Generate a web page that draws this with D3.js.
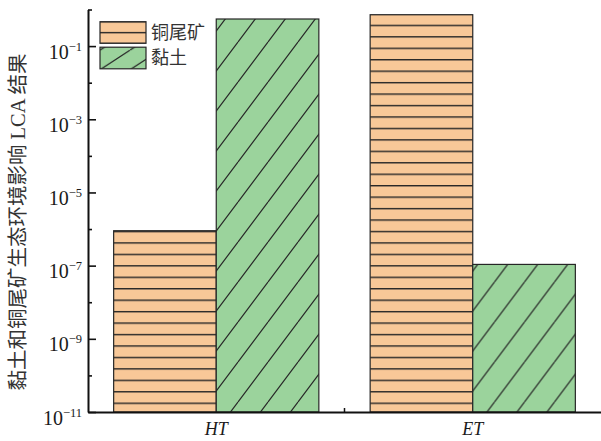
<!DOCTYPE html>
<html>
<head>
<meta charset="utf-8">
<script src="https://cdn.jsdelivr.net/npm/d3@7/dist/d3.min.js"></script>
<style>
  html, body { margin: 0; padding: 0; background: #fff; }
  svg { display: block; }
</style>
</head>
<body>
<svg id="chart" width="601" height="441"></svg>
<script>
// Impact categories on the x axis
const categories = ["HT", "ET"];
// Materials compared in each category
const seriesNames = ["铜尾矿", "黏土"];
// LCA results per material, one value per category
const copperTailings = [9.0e-7, 0.72];
const clay = [0.55, 1.08e-7];
// Log-axis exponents that carry labels, and the in-between minor ticks
const majorExponents = [-1, -3, -5, -7, -9, -11];
const minorExponents = [0, -2, -4, -6, -8, -10];
const yTitle = "黏土和铜尾矿生态环境影响 LCA 结果";

const svg = d3.select("#chart");
const W = 601, H = 441;
const margin = { left: 88, right: 0, top: 9.5, bottom: 29 };
const x0 = margin.left, x1 = W - margin.right;
const yBottom = H - margin.bottom, yTop = margin.top;

const fills = ["#F8C898", "#9BD39C"];
const ink = "#262626";
const serif = "'Liberation Serif', 'Times New Roman', 'Noto Sans CJK SC', serif";
const cjk = "'Liberation Serif', 'Noto Sans CJK SC', serif";

const values = [copperTailings, clay];
const data = categories.map((c, i) => ({
  category: c,
  bars: seriesNames.map((s, j) => ({ series: j, value: values[j][i] }))
}));

const x = d3.scaleBand().domain(categories).range([x0, x1]).paddingInner(0).paddingOuter(0);
const inset = x.bandwidth() * 0.1;
const xs = d3.scaleBand().domain(d3.range(seriesNames.length))
  .range([inset, x.bandwidth() - inset]);
const y = d3.scaleLog().domain([1e-11, 1]).range([yBottom, yTop]);

// Hatch patterns: horizontal rules for tailings, slanted rules for clay
const defs = svg.append("defs");
function hLines(id, period, fill) {
  const p = defs.append("pattern").attr("id", id).attr("patternUnits", "userSpaceOnUse")
    .attr("width", 20).attr("height", period).attr("y", 0);
  p.append("rect").attr("width", 20).attr("height", period).attr("fill", fill);
  p.append("line").attr("x1", 0).attr("x2", 20).attr("y1", 0.7).attr("y2", 0.7)
    .attr("stroke", ink).attr("stroke-width", 1.4);
  return p;
}
function dLines(id, w, h, fill, oy) {
  const p = defs.append("pattern").attr("id", id).attr("patternUnits", "userSpaceOnUse")
    .attr("width", w).attr("height", h).attr("y", oy || 0);
  p.append("rect").attr("width", w).attr("height", h).attr("fill", fill);
  p.append("path")
    .attr("d", `M${-w},${h}L0,0M0,${h}L${w},0M${w},${h}L${2 * w},0`)
    .attr("stroke", ink).attr("stroke-width", 1.2).attr("fill", "none");
  return p;
}
hLines("hatchTail", 11.45, fills[0]).attr("y", 24.7);
dLines("hatchClay", 30, 40, fills[1], 2);
hLines("legendTail", 10.8, fills[0]).attr("y", 21.7 - 0.7);
dLines("legendClay", 30, 19.5, fills[1], 3);

const patternIds = ["url(#hatchTail)", "url(#hatchClay)"];

// Bars
const groups = svg.append("g").selectAll("g").data(data).join("g")
  .attr("transform", d => `translate(${x(d.category)},0)`);
groups.selectAll("rect").data(d => d.bars).join("rect")
  .attr("x", d => xs(d.series))
  .attr("width", xs.bandwidth())
  .attr("y", d => y(d.value))
  .attr("height", d => yBottom - y(d.value))
  .attr("fill", d => patternIds[d.series])
  .attr("stroke", ink)
  .attr("stroke-width", 1.2);

// X axis
const xAxis = svg.append("g").attr("transform", `translate(0,${yBottom})`)
  .call(d3.axisBottom(x).tickSize(0).tickSizeOuter(0).tickPadding(0));
xAxis.select(".domain").attr("stroke", "#111").attr("stroke-width", 2);
xAxis.selectAll("text")
  .attr("font-family", serif).attr("font-style", "italic")
  .attr("font-size", 18).attr("fill", "#1a1a1a")
  .attr("y", 23).attr("dy", null);
// separator tick between the two category groups
xAxis.selectAll(".sep").data(categories.slice(1)).join("line")
  .attr("class", "sep")
  .attr("x1", d => x(d)).attr("x2", d => x(d))
  .attr("y1", 0).attr("y2", -4)
  .attr("stroke", "#111").attr("stroke-width", 1.5);

// Y axis: labelled major ticks and short unlabelled minor ticks
const yAxis = svg.append("g").attr("transform", `translate(${x0},0)`);
yAxis.call(d3.axisLeft(y)
  .tickValues(majorExponents.map(e => Math.pow(10, e)))
  .tickSizeInner(-8).tickSizeOuter(0).tickPadding(6)
  .tickFormat(d => String(Math.round(Math.log10(d)))));
yAxis.select(".domain").attr("stroke", "#111").attr("stroke-width", 2);
yAxis.selectAll(".tick line").attr("stroke", "#111").attr("stroke-width", 1.6);
yAxis.selectAll(".tick text").each(function (d) {
  const t = d3.select(this);
  const exp = t.text().replace("-", "\u2212");
  t.text(null)
    .attr("font-family", serif).attr("font-size", 20).attr("fill", "#1a1a1a")
    .attr("dy", 12).attr("x", -6);
  t.append("tspan").text("10");
  t.append("tspan").attr("dy", -8).attr("font-size", 12.5).text(exp);
});
const yMinor = svg.append("g").attr("transform", `translate(${x0},0)`);
yMinor.call(d3.axisLeft(y)
  .tickValues(minorExponents.map(e => Math.pow(10, e)))
  .tickSizeInner(-4).tickSizeOuter(0).tickFormat(""));
yMinor.select(".domain").remove();
yMinor.selectAll(".tick line").attr("stroke", "#111").attr("stroke-width", 1.6);

// Y axis title
svg.append("text")
  .attr("transform", `translate(18,222) rotate(-90)`)
  .attr("text-anchor", "middle")
  .attr("dominant-baseline", "central")
  .attr("font-family", cjk).attr("font-size", 20.5).attr("fill", "#333")
  .text(yTitle);

// Legend
const legendIds = ["url(#legendTail)", "url(#legendClay)"];
const legend = svg.append("g").attr("transform", "translate(100,21.7)");
const lg = legend.selectAll("g").data(seriesNames).join("g")
  .attr("transform", (d, i) => `translate(0,${i * 25.5})`);
lg.append("rect").attr("width", 46).attr("height", 21.6)
  .attr("fill", (d, i) => legendIds[i]).attr("stroke", ink).attr("stroke-width", 1.2);
lg.append("text").attr("x", 51).attr("y", 11).attr("dominant-baseline", "central")
  .attr("font-family", cjk).attr("font-size", 18).attr("fill", "#333")
  .text(d => d);
</script>
</body>
</html>
